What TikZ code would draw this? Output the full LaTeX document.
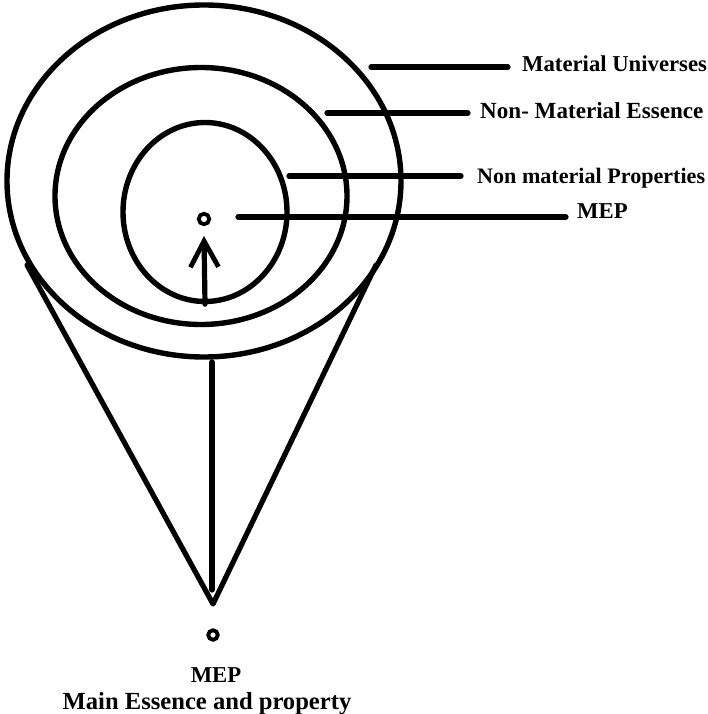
\documentclass[tikz,border=0pt]{standalone}
\usepackage{fontspec}
\setmainfont{Liberation Serif}
\usetikzlibrary{shapes.geometric,arrows.meta}
\tikzset{
  ring/.style={ellipse, draw, line width=5.4pt, inner sep=0pt},
  dotmark/.style={circle, draw, line width=3.8pt, inner sep=0pt, minimum size=10.5pt},
  thick line/.style={line width=5.2pt, line cap=round, line join=round},
  lblfont/.style={font=\bfseries\fontsize{#1}{25}\selectfont, inner sep=0pt},
  lbl/.style={lblfont=#1, anchor=base west},
}
\begin{document}
\begin{tikzpicture}[x=1pt,y=-1pt]
\useasboundingbox (0,0) rectangle (708,714);
% rings
\node[ring, minimum width=394pt, minimum height=352pt] (outer) at (204,181) {};
\node[ring, minimum width=292pt, minimum height=257pt] (middle) at (201,196) {};
\node[ring, minimum width=164pt, minimum height=179pt] (inner) at (205,212) {};
\node[dotmark] (dot) at (204,219) {};
% arrow inside
\coordinate (arrtip) at (204,236);
\draw[thick line, -{Straight Barb[length=26pt, width=28pt, line width=4.8pt]}] (inner.south) -- (arrtip);
% cone
\coordinate (coneL) at (27,265);
\coordinate (coneR) at (376,265);
\coordinate (apex) at (213,604);
\draw[thick line] (coneL) -- (apex) -- (coneR);
\coordinate (vtop) at (212,362);
\coordinate (vbot) at (212,590);
\draw[thick line] (vtop) -- (vbot);
\node[dotmark, minimum size=9.5pt] (dot2) at (213,635) {};
% bottom labels
\node[lblfont=22.7, anchor=base] (mepb) at (216,682) {MEP};
\node[lblfont=24.6, anchor=base] (mepfull) at (207,709) {Main Essence and property};
% right labels
\node[lbl=22.7] (lmu) at (522,72) {Material Universes};
\node[lbl=23.1] (lnme) at (480,119) {Non- Material Essence};
\node[lbl=22.1] (lnmp) at (477,183) {Non material Properties};
\node[lbl=22.7] (lmep) at (577,218) {MEP};
\coordinate (smu) at (371,67);
\coordinate (emu) at (508,67);
\coordinate (snme) at (327,113);
\coordinate (enme) at (468,113);
\coordinate (snmp) at (289,176);
\coordinate (enmp) at (461,176);
\coordinate (smep) at (238,217);
\coordinate (emep) at (566,217);
\draw[thick line] (smu) -- (emu);
\draw[thick line] (snme) -- (enme);
\draw[thick line] (snmp) -- (enmp);
\draw[thick line] (smep) -- (emep);
\end{tikzpicture}
\end{document}
